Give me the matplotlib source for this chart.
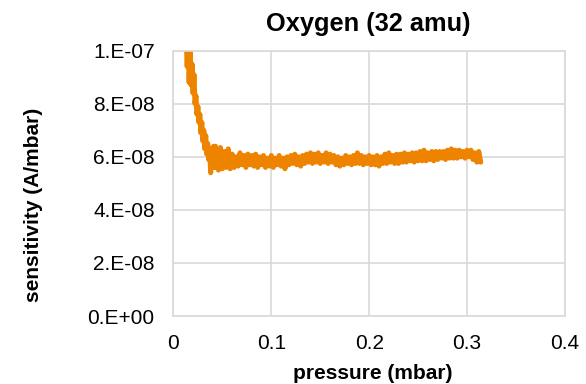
import numpy as np
import matplotlib
matplotlib.use("Agg")
import matplotlib.pyplot as plt

#data, sensitivity in units of 1e-8 A/mbar
#steep part at low pressure
pressure_low = [0.013, 0.014, 0.015, 0.016, 0.017, 0.018, 0.019, 0.020, 0.021, 0.022,
                0.023, 0.024, 0.025, 0.026, 0.027, 0.028, 0.029, 0.030, 0.031, 0.032,
                0.033, 0.034, 0.035, 0.036, 0.037, 0.038, 0.039, 0.040, 0.041, 0.042,
                0.043, 0.044, 0.045]
sens_low = [10.6, 9.4, 10.4, 8.8, 10.0, 8.7, 9.5, 8.4, 9.1, 8.0,
            8.3, 7.6, 7.9, 7.3, 7.6, 6.9, 7.3, 6.6, 7.0, 6.3,
            6.8, 6.1, 6.5, 5.9, 6.3, 5.4, 6.3, 5.6, 6.4, 5.6,
            6.4, 5.6, 6.2]

#flat part, every 0.002 mbar from 0.046 to 0.314
pressure_flat = [0.046, 0.048, 0.050, 0.052, 0.054, 0.056, 0.058, 0.060, 0.062, 0.064,
                 0.066, 0.068, 0.070, 0.072, 0.074, 0.076, 0.078, 0.080, 0.082, 0.084,
                 0.086, 0.088, 0.090, 0.092, 0.094, 0.096, 0.098, 0.100, 0.102, 0.104,
                 0.106, 0.108, 0.110, 0.112, 0.114, 0.116, 0.118, 0.120, 0.122, 0.124,
                 0.126, 0.128, 0.130, 0.132, 0.134, 0.136, 0.138, 0.140, 0.142, 0.144,
                 0.146, 0.148, 0.150, 0.152, 0.154, 0.156, 0.158, 0.160, 0.162, 0.164,
                 0.166, 0.168, 0.170, 0.172, 0.174, 0.176, 0.178, 0.180, 0.182, 0.184,
                 0.186, 0.188, 0.190, 0.192, 0.194, 0.196, 0.198, 0.200, 0.202, 0.204,
                 0.206, 0.208, 0.210, 0.212, 0.214, 0.216, 0.218, 0.220, 0.222, 0.224,
                 0.226, 0.228, 0.230, 0.232, 0.234, 0.236, 0.238, 0.240, 0.242, 0.244,
                 0.246, 0.248, 0.250, 0.252, 0.254, 0.256, 0.258, 0.260, 0.262, 0.264,
                 0.266, 0.268, 0.270, 0.272, 0.274, 0.276, 0.278, 0.280, 0.282, 0.284,
                 0.286, 0.288, 0.290, 0.292, 0.294, 0.296, 0.298, 0.300, 0.302, 0.304,
                 0.306, 0.308, 0.310, 0.312, 0.314]
sens_flat = [5.5, 6.35, 5.55, 6.2, 5.6, 6.3, 5.55, 6.1, 5.6, 6.0,
             5.65, 6.15, 5.7, 6.05, 5.6, 6.1, 5.7, 6.05, 5.65, 6.1,
             5.6, 6.0, 5.7, 6.05, 5.6, 5.95, 5.65, 6.05, 5.6, 5.95,
             5.7, 6.05, 5.65, 5.95, 5.55, 6.0, 5.7, 6.05, 5.75, 6.1,
             5.7, 6.0, 5.65, 6.05, 5.75, 6.1, 5.8, 6.15, 5.75, 6.1,
             5.8, 6.15, 5.75, 6.05, 5.8, 6.15, 5.75, 6.1, 5.8, 6.05,
             5.7, 6.0, 5.65, 5.95, 5.7, 6.05, 5.75, 6.0, 5.7, 6.05,
             5.75, 6.15, 5.75, 6.05, 5.7, 6.0, 5.75, 6.05, 5.7, 6.0,
             5.7, 6.05, 5.65, 6.0, 5.75, 6.1, 5.75, 6.15, 5.8, 6.05,
             5.75, 6.1, 5.75, 6.1, 5.8, 6.15, 5.8, 6.1, 5.85, 6.15,
             5.8, 6.15, 5.85, 6.2, 5.85, 6.25, 5.85, 6.15, 5.9, 6.2,
             5.85, 6.2, 5.9, 6.2, 5.95, 6.2, 5.9, 6.25, 5.95, 6.3,
             5.95, 6.25, 5.95, 6.25, 6.0, 6.2, 5.95, 6.25, 6.0, 6.25,
             5.9, 6.15, 5.8, 6.2, 5.8]

x_ticks = [0, 0.1, 0.2, 0.3, 0.4]
x_labels = ["0", "0.1", "0.2", "0.3", "0.4"]
y_ticks = [0, 2e-8, 4e-8, 6e-8, 8e-8, 1e-7]
y_labels = ["0.E+00", "2.E-08", "4.E-08", "6.E-08", "8.E-08", "1.E-07"]

plt.rcParams['font.family'] = ['Liberation Sans', 'DejaVu Sans']

fig = plt.figure(figsize=(5.86, 3.84), dpi=100)
ax = fig.add_axes([0.296, 0.177, 0.668, 0.691])

x = np.array(pressure_low + pressure_flat)
y = np.array(sens_low + sens_flat) * 1e-8
ax.plot(x, y, color='#EE8300', lw=3.6, solid_joinstyle='round', solid_capstyle='round')

ax.set_xlim(0, 0.4)
ax.set_ylim(0, 1e-7)
ax.set_xticks(x_ticks)
ax.set_xticklabels(x_labels)
ax.set_yticks(y_ticks)
ax.set_yticklabels(y_labels)
ax.tick_params(axis='x', length=0, pad=13, labelsize=15, colors='#000000')
ax.tick_params(axis='y', length=0, pad=13.5, labelsize=15, colors='#000000')

#grey grid and border
ax.grid(True, color='#D9D9D9', lw=1.2)
ax.set_axisbelow(True)
for s in ax.spines.values():
    s.set_color('#D9D9D9')
    s.set_linewidth(1.2)

#labels placed in figure coords
fig.text(0.629, 0.920, "Oxygen (32 amu)", ha='center', va='baseline',
         fontsize=18.3, fontweight='bold')
fig.text(0.636, 0.012, "pressure (mbar)", ha='center', va='baseline',
         fontsize=15, fontweight='bold')
fig.text(0.0657, 0.466, "sensitivity (A/mbar)", ha='center', va='baseline',
         rotation=90, rotation_mode='anchor', fontsize=15, fontweight='bold')

fig.savefig("out.png", dpi=100)
